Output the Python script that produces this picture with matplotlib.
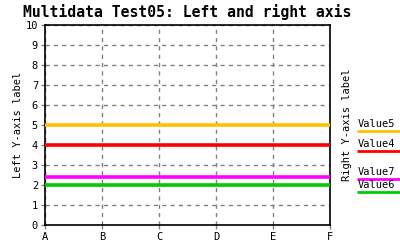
import matplotlib
matplotlib.use("Agg")
import matplotlib.pyplot as plt
import numpy as np

categories = ['A', 'B', 'C', 'D', 'E', 'F']
series_names = ['Value5', 'Value4', 'Value7', 'Value6']
series_values = [5.0, 4.0, 2.4, 2.0]
series_colors = ['#ffc000', '#ff0000', '#ff00ff', '#00cc00']
# legend text positions (data units), nudged so labels don't overlap
legend_y = [4.7, 3.7, 2.3, 1.65]

plt.rcParams['font.family'] = 'DejaVu Sans Mono'

fig = plt.figure(figsize=(4, 2.5), dpi=100)
ax = fig.add_axes([45 / 400, 25 / 250, 285 / 400, 200 / 250])

x = np.arange(len(categories))
for name, v, c in zip(series_names, series_values, series_colors):
    ax.plot(x, [v] * len(x), color=c, lw=2.6, solid_capstyle='butt', zorder=3)

ax.set_xlim(0, len(categories) - 1)
ax.set_ylim(0, 10)
ax.set_xticks(x)
ax.set_xticklabels(categories)
ax.set_yticks(range(0, 11))
ax.tick_params(axis='both', labelsize=7.5, length=3, width=1, color='#808080', pad=2)
ax.grid(True, color='#808080', linestyle=(0, (3, 3)), linewidth=1)
for s in ax.spines.values():
    s.set_color('black')
    s.set_linewidth(1.2)

ax.set_ylabel('Left Y-axis label', fontsize=7.5, labelpad=2)
ax.set_title('Multidata Test05: Left and right axis', fontsize=10.6, fontweight='bold',
             x=0.5, pad=6)

fig.text(347 / 400, 0.5, 'Right Y-axis label', rotation=90, fontsize=7.5,
         ha='center', va='center')

for name, ly, c in zip(series_names, legend_y, series_colors):
    ax.annotate(name, xy=(1.0, ly), xycoords=('axes fraction', 'data'),
                xytext=(28, 2), textcoords='offset pixels', fontsize=7.5,
                ha='left', va='bottom', annotation_clip=False)
    ax.plot([1.0 + 27 / 285, 1.0 + 70 / 285], [ly, ly], color=c, lw=2,
            transform=ax.get_yaxis_transform(), clip_on=False,
            solid_capstyle='butt')

fig.savefig('out.png', dpi=100)
